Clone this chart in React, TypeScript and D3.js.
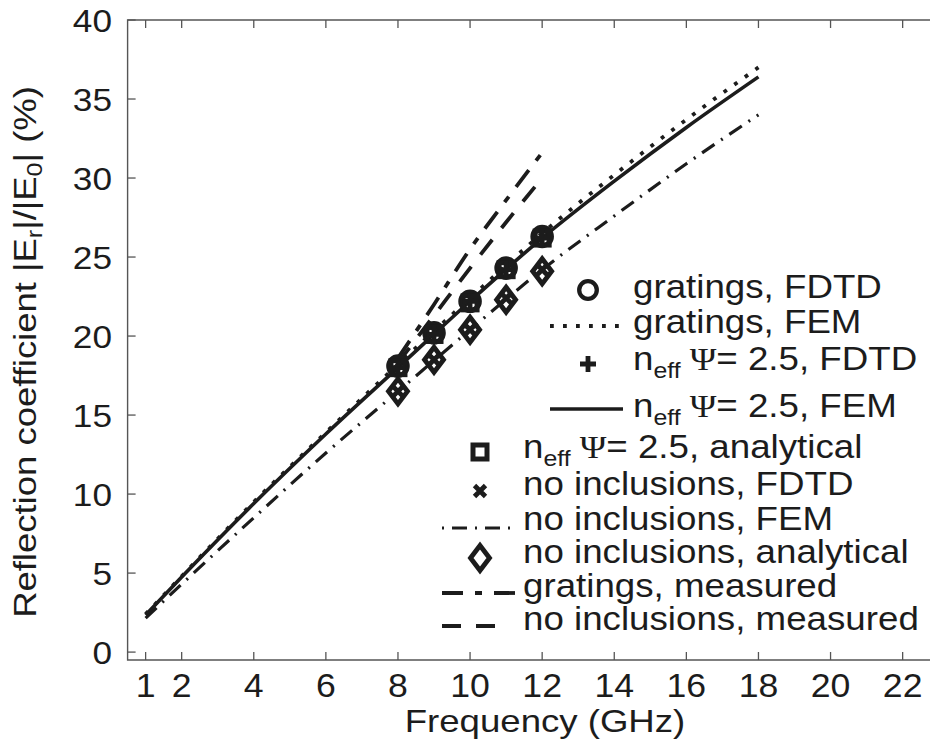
import React from "react";
import * as d3 from "d3";

// ---------------- DATA ----------------
const FEM_FREQ = [1, 2, 4, 6, 8, 10, 12, 14, 16, 18];
const NEFF_FEM = [2.35, 4.75, 9.4, 13.8, 18.0, 22.2, 26.2, 29.8, 33.2, 36.4];
const GRATINGS_FEM = [2.4, 4.8, 9.5, 13.9, 18.2, 22.4, 26.5, 30.2, 33.7, 37.0];
const NOINCL_FEM = [2.15, 4.3, 8.5, 12.6, 16.5, 20.4, 24.2, 27.6, 30.9, 34.0];

const PT_FREQ = [8, 9, 10, 11, 12];
const GRATINGS_FDTD = [18.1, 20.2, 22.2, 24.3, 26.3];
const NEFF_FDTD = [18.0, 20.1, 22.2, 24.2, 26.2];
const NEFF_ANALYTICAL = [18.0, 20.1, 22.1, 24.2, 26.2];
const NOINCL_FDTD = [16.5, 18.5, 20.4, 22.4, 24.2];
const NOINCL_ANALYTICAL = [16.5, 18.5, 20.4, 22.3, 24.1];

const MEAS_FREQ = [8, 9, 10, 11, 12];
const GRATINGS_MEAS = [18.6, 22.0, 25.5, 28.6, 31.6];
const NOINCL_MEAS = [18.3, 21.3, 24.3, 27.2, 30.0];

const X_TICKS = [1, 2, 4, 6, 8, 10, 12, 14, 16, 18, 20, 22];
const Y_TICKS = [0, 5, 10, 15, 20, 25, 30, 35, 40];

const X_LABEL = "Frequency (GHz)";
const LEGEND_LABELS = [
  "gratings, FDTD",
  "gratings, FEM",
  "2.5, FDTD",
  "2.5, FEM",
  "2.5, analytical",
  "no inclusions, FDTD",
  "no inclusions, FEM",
  "no inclusions, analytical",
  "gratings, measured",
  "no inclusions, measured",
];

// ---------------- STYLE ----------------
const FONT = "'Liberation Sans', Arial, Helvetica, sans-serif";
const SERIF = "'Liberation Serif', 'DejaVu Serif', serif";
const INK = "#1c1c1c";
const AXIS = "#555";
const SX = 1.13;

const W = 930;
const H = 748;

const STYLES: Record<string, { width: number; dash?: string; legendOffset?: number }> = {
  solid: { width: 3.6 },
  dotted: { width: 3.8, dash: "3.8,9.2" },
  dashdot: { width: 3.2, dash: "15,8,2,8", legendOffset: 23 },
  gmeas: { width: 3.8, dash: "21,12,7,12" },
  nmeas: { width: 3.8, dash: "19,15" },
};

function Marker({ kind, x, y, big = false }: { kind: string; x: number; y: number; big?: boolean }) {
  const sw = 4.8;
  if (kind === "circle")
    return <circle cx={x} cy={y} r={big ? 9.3 : 8.8} fill="none" stroke={INK} strokeWidth={big ? 5 : 4.3} />;
  if (kind === "square")
    return <rect x={x - 7} y={y - 7} width={14} height={14} fill="none" stroke={INK} strokeWidth={5} />;
  if (kind === "plus")
    return (
      <path d={`M${x - 8},${y}H${x + 8}M${x},${y - 8}V${y + 8}`} stroke={INK} strokeWidth={sw} />
    );
  if (kind === "x")
    return (
      <path
        d={`M${x - 5.5},${y - 5.5}L${x + 5.5},${y + 5.5}M${x - 5.5},${y + 5.5}L${x + 5.5},${y - 5.5}`}
        stroke={INK}
        strokeWidth={sw}
      />
    );
  if (kind === "diamond")
    return (
      <path
        d={`M${x},${y - 12.5}L${x + 9.5},${y}L${x},${y + 12.5}L${x - 9.5},${y}Z`}
        fill="none"
        stroke={INK}
        strokeWidth={sw}
        strokeLinejoin="miter"
      />
    );
  return null;
}

function Txt({
  x,
  y,
  size,
  anchor = "start",
  rotate = 0,
  sx = SX,
  children,
}: {
  x: number;
  y: number;
  size: number;
  anchor?: string;
  rotate?: number;
  sx?: number;
  children: React.ReactNode;
}) {
  return (
    <text
      transform={`translate(${x},${y}) rotate(${rotate}) scale(${sx},1)`}
      fontFamily={FONT}
      fontSize={size}
      fill={INK}
      textAnchor={anchor as any}
    >
      {children}
    </text>
  );
}

function Neff({ rest }: { rest: string }) {
  return (
    <>
      <tspan>n</tspan>
      <tspan fontSize={22} dy={8}>
        eff
      </tspan>
      <tspan dy={-8} fontFamily={SERIF} fontSize={32}>
        {" Ψ"}
      </tspan>
      <tspan>{"= " + rest}</tspan>
    </>
  );
}

export default function App() {
  const x = d3.scaleLinear().domain([0.5, 23]).range([127.6, 938.7]);
  const y = d3.scaleLinear().domain([-0.5, 40]).range([660, 20]);

  const line = (xs: number[], ys: number[]) =>
    d3
      .line<number>()
      .x((_, i) => x(xs[i]))
      .y((d) => y(d))
      .curve(d3.curveMonotoneX)(ys) as string;

  const series = [
    { xs: FEM_FREQ, ys: NOINCL_FEM, st: "dashdot" },
    { xs: FEM_FREQ, ys: NEFF_FEM, st: "solid" },
    { xs: FEM_FREQ, ys: GRATINGS_FEM, st: "dotted" },
    { xs: MEAS_FREQ, ys: GRATINGS_MEAS, st: "gmeas" },
    { xs: MEAS_FREQ, ys: NOINCL_MEAS, st: "nmeas" },
  ];

  const markers = [
    { ys: NOINCL_ANALYTICAL, kind: "diamond" },
    { ys: NOINCL_FDTD, kind: "x" },
    { ys: GRATINGS_FDTD, kind: "circle" },
    { ys: NEFF_ANALYTICAL, kind: "square" },
    { ys: NEFF_FDTD, kind: "plus" },
  ];

  const [x0, x1] = x.range();
  const [yb, yt] = y.range();
  const TL = 8;
  const LS = 32.5; // legend font size

  const upper = { tx: 633, sx: 588, lx0: 550, lx1: 623 };
  const lower = { tx: 523, sx: 480, lx0: 442, lx1: 515 };
  const legend = [
    { g: upper, kind: "circle", base: 298, sy: 290 },
    { g: upper, line: "dotted", base: 333, sy: 326 },
    { g: upper, kind: "plus", base: 370, sy: 364, neff: true },
    { g: upper, line: "solid", base: 417, sy: 409, neff: true },
    { g: lower, kind: "square", base: 458, sy: 452, neff: true },
    { g: lower, kind: "x", base: 495, sy: 491 },
    { g: lower, line: "dashdot", base: 530, sy: 528 },
    { g: lower, kind: "diamond", base: 563, sy: 558 },
    { g: lower, line: "gmeas", base: 597, sy: 593, x1: 515 },
    { g: lower, line: "nmeas", base: 630, sy: 626, x1: 500 },
  ];

  return (
    <svg
      width={W}
      height={H}
      style={{ position: "absolute", left: 0, top: 0, background: "#fff" }}
    >
      <rect width={W} height={H} fill="#fff" />
      <path
        d={`M${x1},${yt}H${x0}V${yb}H${x1}`}
        fill="none"
        stroke={AXIS}
        strokeWidth={1.4}
      />
      {X_TICKS.map((t) => (
        <g key={"xt" + t}>
          <line x1={x(t)} x2={x(t)} y1={yb} y2={yb - TL} stroke={AXIS} strokeWidth={1.3} />
          <line x1={x(t)} x2={x(t)} y1={yt} y2={yt + TL} stroke={AXIS} strokeWidth={1.3} />
          <Txt x={x(t)} y={697} size={33} anchor="middle" sx={1.08}>
            {t}
          </Txt>
        </g>
      ))}
      {Y_TICKS.map((t) => (
        <g key={"yt" + t}>
          <line x1={x0} x2={x0 + TL} y1={y(t)} y2={y(t)} stroke={AXIS} strokeWidth={1.3} />
          <Txt x={112} y={y(t) + 12} size={32} anchor="end" sx={1.1}>
            {t}
          </Txt>
        </g>
      ))}
      <Txt x={545} y={732} size={30.5} anchor="middle" sx={1.2}>
        {X_LABEL}
      </Txt>
      <Txt x={36} y={352} size={32} anchor="middle" rotate={-90} sx={1.14}>
        <tspan>Reflection coefficient |E</tspan>
        <tspan fontSize={22} dy={6}>
          r
        </tspan>
        <tspan dy={-6}>|/|E</tspan>
        <tspan fontSize={22} dy={6}>
          0
        </tspan>
        <tspan dy={-6}>| (%)</tspan>
      </Txt>

      {series.map((s, i) => (
        <path
          key={"s" + i}
          d={line(s.xs, s.ys)}
          fill="none"
          stroke={INK}
          strokeWidth={STYLES[s.st].width}
          strokeDasharray={STYLES[s.st].dash}
        />
      ))}
      {markers.map((m, i) =>
        m.ys.map((v, j) => (
          <Marker key={`m${i}-${j}`} kind={m.kind} x={x(PT_FREQ[j])} y={y(v)} big />
        ))
      )}

      {legend.map((e, i) => (
        <g key={"lg" + i}>
          {e.kind ? (
            <Marker kind={e.kind} x={e.g.sx} y={e.sy} />
          ) : (
            <line
              x1={e.g.lx0}
              x2={e.x1 ?? e.g.lx1}
              y1={e.sy}
              y2={e.sy}
              stroke={INK}
              strokeWidth={STYLES[e.line as string].width}
              strokeDasharray={STYLES[e.line as string].dash}
              strokeDashoffset={STYLES[e.line as string].legendOffset ?? 0}
            />
          )}
          <Txt x={e.g.tx} y={e.base} size={LS}>
            {e.neff ? <Neff rest={LEGEND_LABELS[i]} /> : LEGEND_LABELS[i]}
          </Txt>
        </g>
      ))}
    </svg>
  );
}
